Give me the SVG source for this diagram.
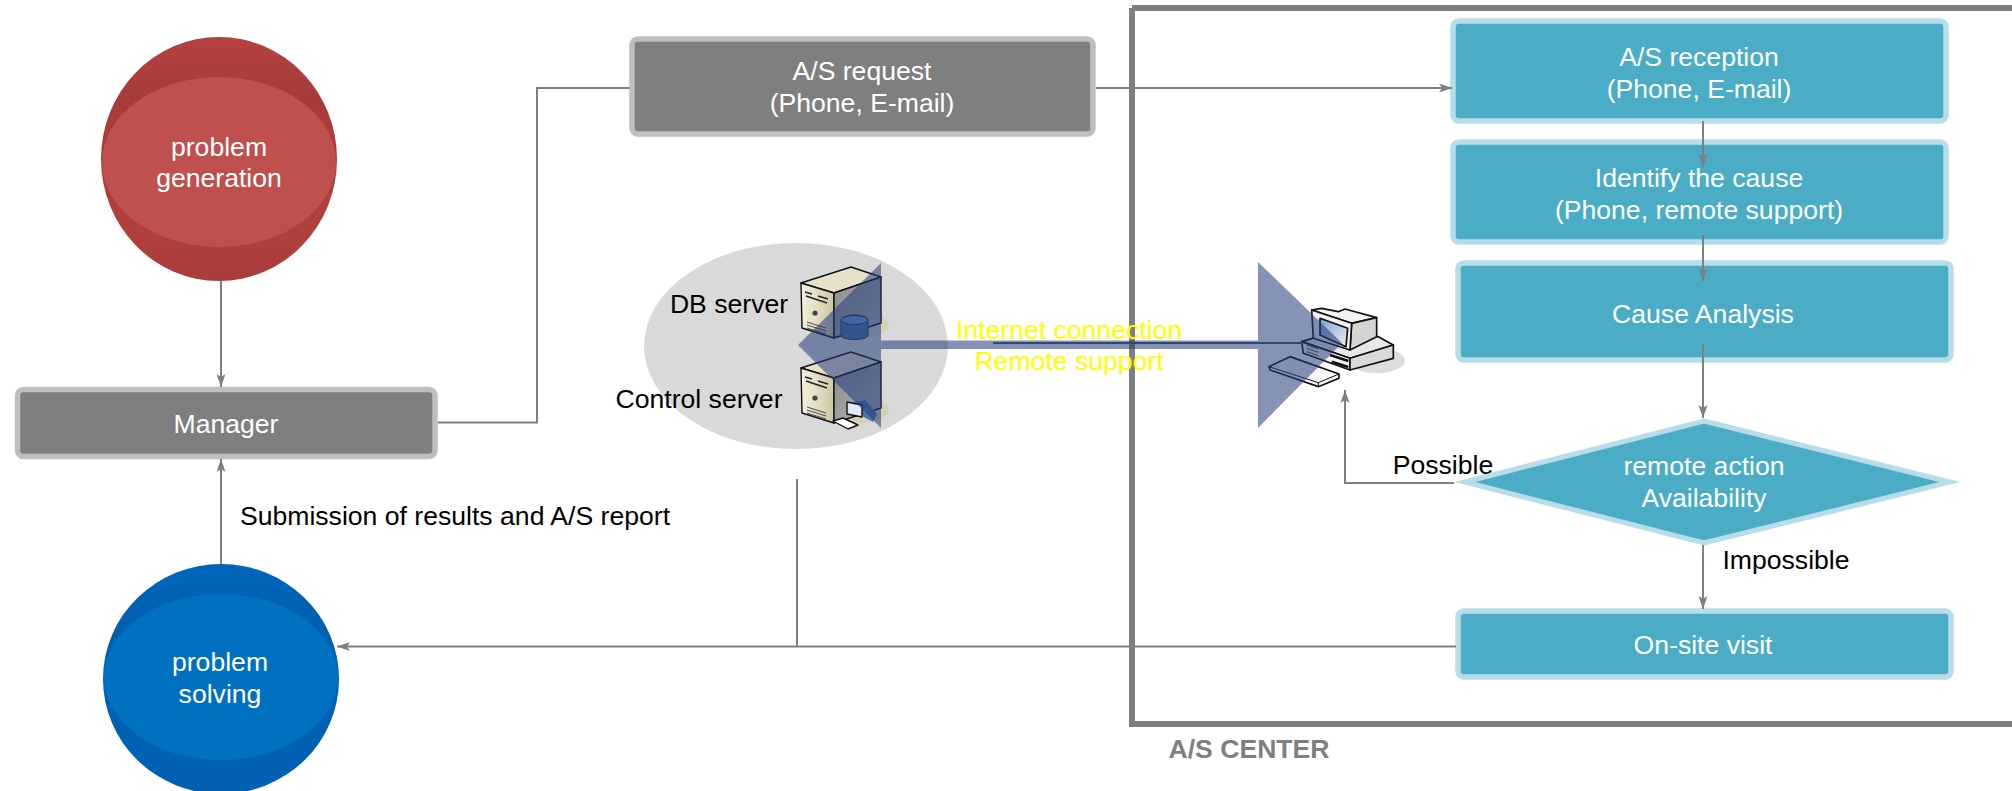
<svg xmlns="http://www.w3.org/2000/svg" width="2012" height="791" viewBox="0 0 2012 791">
<style>
text{font-family:"Liberation Sans",Arial,sans-serif;font-size:26.6px;text-anchor:middle}
.w{fill:#fff}.k{fill:#000}.y{fill:#ffff00}
.g{fill:#7f7f7f;stroke:#bfbfbf;stroke-width:5.5}
.t{fill:#4bacc6;stroke:#b7dde8;stroke-width:5.5}
.c{fill:none;stroke:#7f7f7f;stroke-width:2}
.a{marker-end:url(#ah)}
.tri{fill:#1f3a7a;fill-opacity:.55}
.ic{stroke:#111;stroke-width:1.4;stroke-linejoin:round}
.pc{stroke:#111;stroke-width:5;stroke-linejoin:round}
</style>
<defs>
<marker id="ah" markerUnits="userSpaceOnUse" markerWidth="14" markerHeight="10" refX="13" refY="4.5" orient="auto" viewBox="0 0 14 9"><path d="M0 0L13 4.5L0 9L3 4.5Z" fill="#7f7f7f"/></marker>
<linearGradient id="red" x1="0" y1="0" x2="0" y2="1"><stop offset="0" stop-color="#b5413f"/><stop offset=".25" stop-color="#a63c3a"/><stop offset=".8" stop-color="#b0403d"/><stop offset="1" stop-color="#a83d3b"/></linearGradient>
<linearGradient id="blue" x1="0" y1="0" x2="0" y2="1"><stop offset="0" stop-color="#0066bb"/><stop offset=".25" stop-color="#005fb0"/><stop offset="1" stop-color="#0060b2"/></linearGradient>
<linearGradient id="srv" x1="0" y1="0" x2="1" y2="0"><stop offset="0" stop-color="#f6f1de"/><stop offset="1" stop-color="#cfc6a6"/></linearGradient>
<linearGradient id="srvd" x1="0" y1="0" x2="1" y2="1"><stop offset="0" stop-color="#8a8a8a"/><stop offset="1" stop-color="#b8b8b8"/></linearGradient>
<linearGradient id="scr" x1="0" y1="0" x2="1" y2="1"><stop offset="0" stop-color="#7f9fc6"/><stop offset="1" stop-color="#eef3fa"/></linearGradient>
<g id="srvbody">
<ellipse cx="50" cy="58" rx="38" ry="14" fill="#d8d0b4"/>
<path class="ic" d="M0 16L50 0L80 10L33 26Z" fill="#e6e0ca"/>
<path class="ic" d="M0 16L33 26V71L1 61Z" fill="url(#srv)"/>
<path class="ic" d="M33 26L80 10V56L33 71Z" fill="url(#srvd)"/>
<path d="M4 25L11 27M17 29L27 32M5 29L26 36" stroke="#222" stroke-width="1.5" fill="none"/>
<path d="M6 55L25 61M6 58L25 64M6 61L25 67" stroke="#555" stroke-width="1.1"/>
<circle cx="14" cy="46" r="2.6" fill="#444"/>
</g>
</defs>
<g id="frame"><path d="M1132 8H2012M1132 8V724H2012" fill="none" stroke="#7f7f7f" stroke-width="6"/><text x="1249" y="758" style="font-weight:bold;fill:#7f7f7f">A/S CENTER</text></g>
<text class="k" x="1443" y="474">Possible</text>
<g id="problem-generation"><ellipse cx="219" cy="159" rx="118" ry="122" fill="url(#red)"/><ellipse cx="219" cy="162" rx="117" ry="85" fill="#c0504d"/><text class="w" x="219" y="156">problem</text><text class="w" x="219" y="187">generation</text></g>
<g id="manager"><rect class="g" x="17.5" y="389.5" width="417.5" height="67" rx="6"/><text class="w" x="226" y="433">Manager</text></g>
<g id="problem-solving"><ellipse cx="221" cy="679" rx="118" ry="115" fill="url(#blue)"/><ellipse cx="221" cy="677" rx="117" ry="83" fill="#0070c0"/><text class="w" x="220" y="671">problem</text><text class="w" x="220" y="703">solving</text></g>
<g id="as-request"><rect class="g" x="632" y="39" width="461" height="95" rx="6"/><text class="w" x="862" y="80">A/S request</text><text class="w" x="862" y="112">(Phone, E-mail)</text></g>
<g id="as-reception"><rect class="t" x="1453" y="21" width="493" height="100" rx="6"/><text class="w" x="1699" y="66">A/S reception</text><text class="w" x="1699" y="98">(Phone, E-mail)</text></g>
<g id="identify"><rect class="t" x="1453" y="142" width="493" height="100" rx="6"/><text class="w" x="1699" y="187">Identify the cause</text><text class="w" x="1699" y="219">(Phone, remote support)</text></g>
<g id="cause-analysis"><rect class="t" x="1458" y="263" width="493" height="97" rx="6"/><text class="w" x="1703" y="323">Cause Analysis</text></g>
<g id="remote-action"><path class="t" style="stroke-width:5;stroke-miterlimit:12" d="M1704 421L1950 482L1704 543L1465 482Z"/><text class="w" x="1704" y="475">remote action</text><text class="w" x="1704" y="507">Availability</text></g>
<g id="on-site"><rect class="t" x="1458" y="611" width="493" height="66" rx="6"/><text class="w" x="1703" y="654">On-site visit</text></g>
<g id="connectors">
<path class="c a" d="M221 281V387"/>
<path class="c" d="M438 422.5H537V88H630"/>
<path class="c a" d="M1096 88H1452"/>
<path class="c a" d="M1703 121V167"/>
<path class="c a" d="M1703 235V281"/>
<path class="c a" d="M1703 344V418"/>
<path class="c a" d="M1703 545V609"/>
<path class="c a" d="M221 564V459"/>
<path class="c" d="M797 479V646"/>
<path class="c a" d="M1456 646.5H337"/>
<path class="c a" d="M1454 483H1345V390"/>
</g>
<g id="servers"><ellipse cx="796" cy="346" rx="152" ry="103" fill="#d9d9d9"/>
<use href="#srvbody" x="801" y="267"/><use href="#srvbody" x="801" y="352"/>
<path d="M841 321c0-8 27-8 27 0v14c0 6-27 6-27 0z" fill="#4a76ad" stroke="#234" stroke-width="1"/><ellipse cx="854.500" cy="320" rx="13.500" ry="4.500" fill="#6f97c6" stroke="#234" stroke-width="1"/>
<path d="M853 402L865 400L877 414L873 422L862 416Z" fill="#4a76ad"/>
<path class="ic" d="M847 402L862 405V417L847 414Z" fill="#dfeaf5"/>
<path class="ic" d="M833 421L843 418L858 425L848 429Z" fill="#fff"/>
<text class="k" x="729" y="313">DB server</text><text class="k" x="699" y="408">Control server</text></g>
<g id="pc" transform="translate(1265 295) scale(.3333)">
<ellipse cx="335" cy="197" rx="85" ry="38" fill="#ddd"/>
<path class="pc" d="M110 140L160 125L340 125L385 150L255 190Z" fill="#e8e8e8"/>
<path class="pc" d="M110 140L255 190V225L115 175Z" fill="#f4f4f4"/>
<path class="pc" d="M255 190L385 150V190L255 225Z" fill="#d9d9d9"/>
<path d="M195 180L250 198M200 200L250 216" stroke="#111" stroke-width="8"/>
<path d="M125 150L160 162M125 160L160 172M125 170L160 182" stroke="#444" stroke-width="3"/>
<path class="pc" d="M140 45L170 40L220 50L240 42L335 68L260 85Z" fill="#f2f2f2"/>
<path class="pc" d="M260 85L335 68V125L255 165Z" fill="#d4d4d4"/>
<path class="pc" d="M140 45L260 85L255 165L145 130Z" fill="#f0f0f0"/>
<path class="pc" d="M165 70L248 100L243 155L165 120Z" fill="url(#scr)" stroke-width="3"/>
<path class="pc" d="M12 215L75 185L222 237V250L160 275L15 225Z" fill="#f7f7f7"/>
<path d="M12 215L160 263L222 237M160 263V275" fill="none" stroke="#111" stroke-width="3"/>
</g>
<g id="link"><path class="tri" d="M798 345L881 263V428Z"/><path class="tri" d="M1342 343L1258 262V428Z"/><rect class="tri" x="881" y="340.500" width="377" height="8.500"/><path d="M993 343H1303" stroke="#33476f" stroke-width="2"/></g>
<g id="labels"><text class="y" x="1069" y="339">Internet connection</text><text class="y" x="1069" y="370">Remote support</text>
<text class="k" x="1786" y="569">Impossible</text><text class="k" x="455" y="525">Submission of results and A/S report</text></g>
</svg>
